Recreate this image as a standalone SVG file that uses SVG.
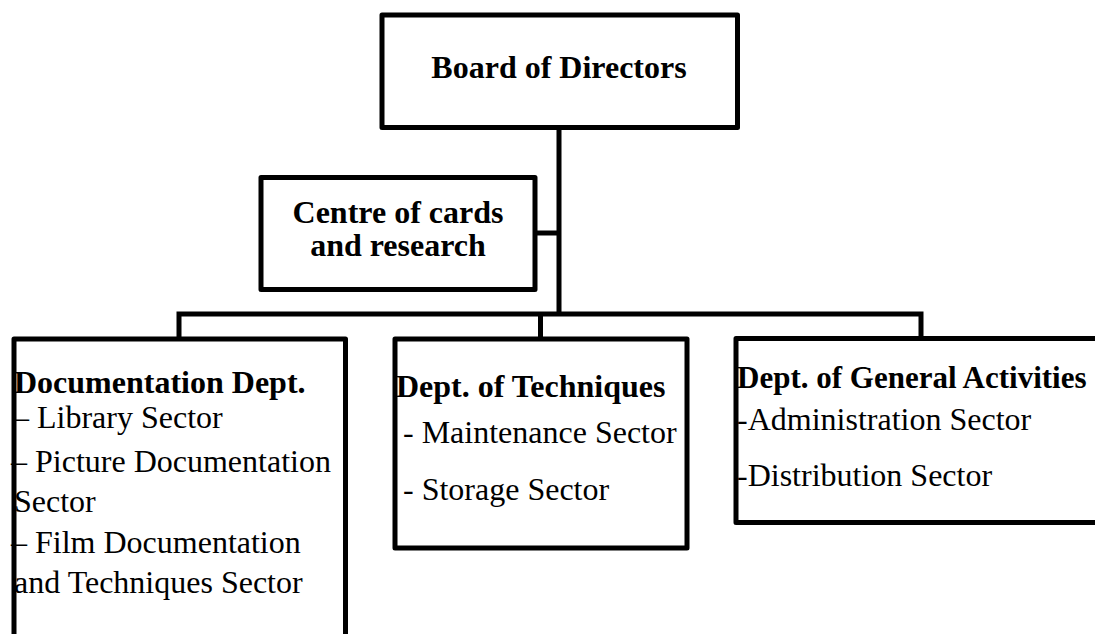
<svg xmlns="http://www.w3.org/2000/svg" width="1095" height="634" viewBox="0 0 1095 634">
  <style>
    .box { fill: #ffffff; stroke: #000000; stroke-width: 5; stroke-linejoin: round; }
    .link { fill: none; stroke: #000000; stroke-width: 5; stroke-linejoin: miter; }
    .head { font-family: "Liberation Serif", "Times New Roman", serif; font-weight: bold; font-size: 32px; fill: #000000; }
    .item { font-family: "Liberation Serif", "Times New Roman", serif; font-size: 32px; fill: #000000; }
  </style>
  <rect x="0" y="0" width="1095" height="634" fill="#ffffff"/>

  <!-- connectors -->
  <g id="connectors">
    <path class="link" d="M559 127 V314"/>
    <path class="link" d="M535 233 H559"/>
    <path class="link" d="M179 339 V314 H921 V339"/>
    <path class="link" d="M540.5 314 V339"/>
  </g>

  <!-- top of the hierarchy -->
  <g id="board">
    <rect class="box" x="382" y="15" width="355.5" height="112.5"/>
    <text class="head" x="559" y="78" text-anchor="middle">Board of Directors</text>
  </g>

  <g id="centre">
    <rect class="box" x="261" y="177.5" width="274" height="112"/>
    <text class="head" x="398" y="223" text-anchor="middle">Centre of cards</text>
    <text class="head" x="398" y="256" text-anchor="middle">and research</text>
  </g>

  <!-- departments -->
  <g id="documentation">
    <rect class="box" x="14" y="339" width="331.5" height="330"/>
    <text class="head" x="14" y="393">Documentation Dept.</text>
    <text class="item" x="13" y="428">– Library Sector</text>
    <text class="item" x="11" y="472">– Picture Documentation</text>
    <text class="item" x="14" y="512">Sector</text>
    <text class="item" x="11" y="553">– Film Documentation</text>
    <text class="item" x="14" y="593">and Techniques Sector</text>
  </g>

  <g id="techniques">
    <rect class="box" x="395" y="339" width="292" height="209"/>
    <text class="head" x="396" y="397">Dept. of Techniques</text>
    <text class="item" x="403" y="443">- Maintenance Sector</text>
    <text class="item" x="403" y="500">- Storage Sector</text>
  </g>

  <g id="general">
    <rect class="box" x="736" y="338.5" width="420" height="184"/>
    <text class="head" x="737" y="388" style="font-size:31px">Dept. of General Activities</text>
    <text class="item" x="737" y="430">-Administration Sector</text>
    <text class="item" x="737" y="486">-Distribution Sector</text>
  </g>
</svg>
